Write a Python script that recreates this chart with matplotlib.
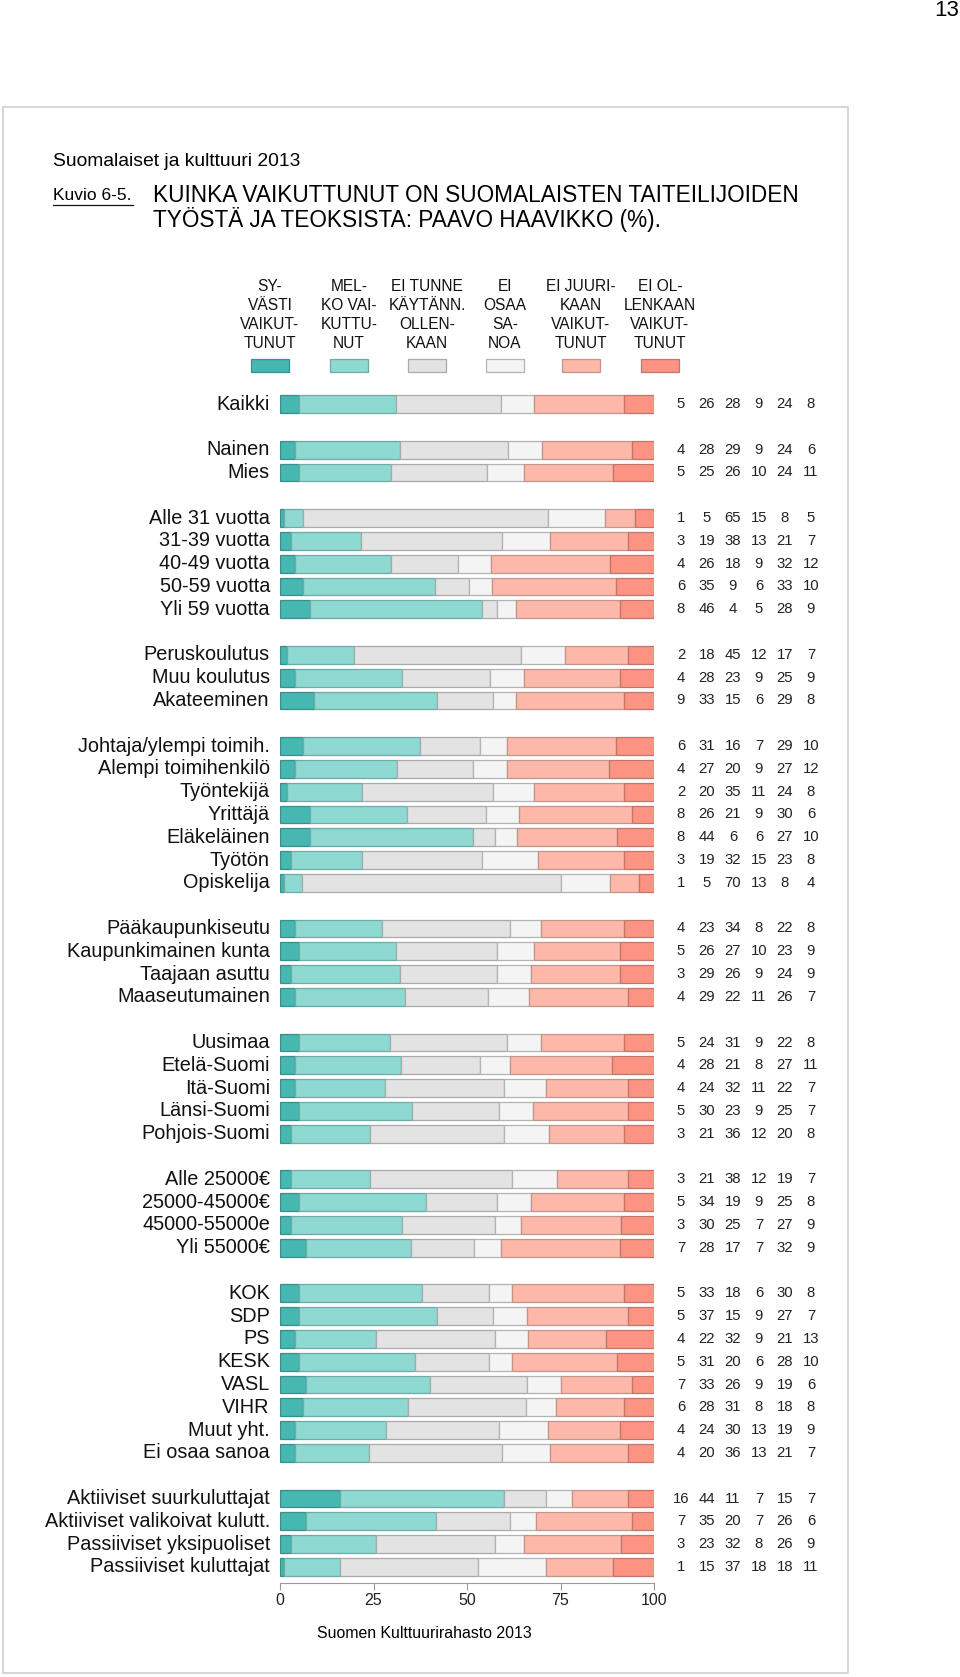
import numpy as np
import matplotlib
matplotlib.use('Agg')
import matplotlib.pyplot as plt
from matplotlib.patches import Rectangle

plt.rcParams['font.family'] = ['Liberation Sans', 'DejaVu Sans']

# ryhmät (tyhjä rivi ryhmien välissä)
ryhmat = [
    ['Kaikki'],
    ['Nainen', 'Mies'],
    ['Alle 31 vuotta', '31-39 vuotta', '40-49 vuotta', '50-59 vuotta', 'Yli 59 vuotta'],
    ['Peruskoulutus', 'Muu koulutus', 'Akateeminen'],
    ['Johtaja/ylempi toimih.', 'Alempi toimihenkilö', 'Työntekijä', 'Yrittäjä',
     'Eläkeläinen', 'Työtön', 'Opiskelija'],
    ['Pääkaupunkiseutu', 'Kaupunkimainen kunta', 'Taajaan asuttu', 'Maaseutumainen'],
    ['Uusimaa', 'Etelä-Suomi', 'Itä-Suomi', 'Länsi-Suomi', 'Pohjois-Suomi'],
    ['Alle 25000€', '25000-45000€', '45000-55000e', 'Yli 55000€'],
    ['KOK', 'SDP', 'PS', 'KESK', 'VASL', 'VIHR', 'Muut yht.', 'Ei osaa sanoa'],
    ['Aktiiviset suurkuluttajat', 'Aktiiviset valikoivat kulutt.',
     'Passiiviset yksipuoliset', 'Passiiviset kuluttajat'],
]

syvasti = [5, 4, 5, 1, 3, 4, 6, 8, 2, 4, 9, 6, 4, 2, 8, 8, 3, 1, 4, 5, 3, 4,
           5, 4, 4, 5, 3, 3, 5, 3, 7, 5, 5, 4, 5, 7, 6, 4, 4, 16, 7, 3, 1]
melko = [26, 28, 25, 5, 19, 26, 35, 46, 18, 28, 33, 31, 27, 20, 26, 44, 19, 5, 23, 26, 29, 29,
         24, 28, 24, 30, 21, 21, 34, 30, 28, 33, 37, 22, 31, 33, 28, 24, 20, 44, 35, 23, 15]
ei_tunne = [28, 29, 26, 65, 38, 18, 9, 4, 45, 23, 15, 16, 20, 35, 21, 6, 32, 70, 34, 27, 26, 22,
            31, 21, 32, 23, 36, 38, 19, 25, 17, 18, 15, 32, 20, 26, 31, 30, 36, 11, 20, 32, 37]
ei_osaa = [9, 9, 10, 15, 13, 9, 6, 5, 12, 9, 6, 7, 9, 11, 9, 6, 15, 13, 8, 10, 9, 11,
           9, 8, 11, 9, 12, 12, 9, 7, 7, 6, 9, 9, 6, 9, 8, 13, 13, 7, 7, 8, 18]
ei_juuri = [24, 24, 24, 8, 21, 32, 33, 28, 17, 25, 29, 29, 27, 24, 30, 27, 23, 8, 22, 23, 24, 26,
            22, 27, 22, 25, 20, 19, 25, 27, 32, 30, 27, 21, 28, 19, 18, 19, 21, 15, 26, 26, 18]
ei_lainkaan = [8, 6, 11, 5, 7, 12, 10, 9, 7, 9, 8, 10, 12, 8, 6, 10, 8, 4, 8, 9, 9, 7,
               8, 11, 7, 7, 8, 7, 8, 9, 9, 8, 7, 13, 10, 6, 8, 9, 7, 7, 6, 9, 11]

otsikot = ['SY-\nVÄSTI\nVAIKUT-\nTUNUT', 'MEL-\nKO VAI-\nKUTTU-\nNUT',
           'EI TUNNE\nKÄYTÄNN.\nOLLEN-\nKAAN', 'EI\nOSAA\nSA-\nNOA',
           'EI JUURI-\nKAAN\nVAIKUT-\nTUNUT', 'EI OL-\nLENKAAN\nVAIKUT-\nTUNUT']
varit = ['#46b8b1', '#8fd9d3', '#e3e3e3', '#f4f4f4', '#fdb8a9', '#fc9383']
reunat = ['#3b8e89', '#6eaaa6', '#a9a9a9', '#b3b3b3', '#c2948a', '#c0766a']

W, H = 960, 1677
fig = plt.figure(figsize=(W / 100, H / 100), dpi=100)

def fx(px):
    return px / W

def fy(py):
    return 1 - py / H

# rivien paikat
nimet = []
paikat = []
rivi = 0
for g in ryhmat:
    for n in g:
        nimet.append(n)
        paikat.append(rivi)
        rivi += 1
    rivi += 1
paikat = np.array(paikat)
viimeinen = paikat[-1]

arvot = np.array([syvasti, melko, ei_tunne, ei_osaa, ei_juuri, ei_lainkaan], dtype=float)
osuudet = arvot / arvot.sum(axis=0) * 100

top_px, bot_px = 392.6, 1578.4
ax = fig.add_axes([fx(280), fy(bot_px), fx(654) - fx(280), (bot_px - top_px) / H])

vasen = np.zeros(len(nimet))
for i in range(6):
    ax.barh(paikat, osuudet[i], left=vasen, height=0.78, color=varit[i],
            edgecolor=reunat[i], linewidth=0.9)
    vasen += osuudet[i]

ax.set_xlim(0, 100)
ax.set_ylim(viimeinen + 0.5, -0.5)

for n, y in zip(nimet, paikat):
    ax.text(-2.7, y, n, ha='right', va='center', fontsize=14.3, color='#111111')

sarakkeet = [107.2 + 6.95 * i for i in range(6)]
for j, y in enumerate(paikat):
    for i in range(6):
        ax.text(sarakkeet[i], y, str(int(arvot[i, j])), ha='center', va='center',
                fontsize=10.7, color='#222222', clip_on=False)

for s in ['left', 'top', 'right']:
    ax.spines[s].set_visible(False)
ax.spines['bottom'].set_bounds(0, 100)
ax.spines['bottom'].set_position(('outward', 3))
ax.spines['bottom'].set_color('#9a9a9a')
ax.set_yticks([])
ax.set_xticks([0, 25, 50, 75, 100])
ax.tick_params(axis='x', length=5, color='#9a9a9a', labelsize=11.5, pad=2.5, labelcolor='#222222')

# selitteet
otsikko_x = [270, 349, 427, 505, 581, 660]
for i in range(6):
    fig.text(fx(otsikko_x[i]), fy(315), otsikot[i], ha='center', va='center',
             fontsize=11.2, linespacing=1.32, color='#111111')
    fig.patches.append(Rectangle((fx(otsikko_x[i] - 19), fy(372)), fx(38), 13 / H,
                                 transform=fig.transFigure, facecolor=varit[i],
                                 edgecolor=reunat[i], linewidth=0.9))

# otsikot
fig.text(fx(53), fy(161), 'Suomalaiset ja kulttuuri 2013', ha='left', va='center', fontsize=13.9)
fig.text(fx(53), fy(196), 'Kuvio 6-5.', ha='left', va='center', fontsize=12.5)
fig.lines.append(plt.Line2D([fx(53), fx(133)], [fy(205), fy(205)], transform=fig.transFigure,
                            color='#111111', linewidth=0.9))
fig.text(fx(153), fy(195), 'KUINKA VAIKUTTUNUT ON SUOMALAISTEN TAITEILIJOIDEN',
         ha='left', va='center', fontsize=16.3)
fig.text(fx(153), fy(220), 'TYÖSTÄ JA TEOKSISTA: PAAVO HAAVIKKO (%).',
         ha='left', va='center', fontsize=16.3)
fig.text(fx(424), fy(1634), 'Suomen Kulttuurirahasto 2013', ha='center', va='center', fontsize=11.4)
fig.text(fx(947), fy(11), '13', ha='center', va='center', fontsize=16)

# kehys
fig.patches.append(Rectangle((fx(3), fy(1673)), fx(845), (1673 - 107) / H,
                             transform=fig.transFigure, fill=False,
                             edgecolor='#cfcfcf', linewidth=1.2))

fig.savefig('out.png', dpi=100)
